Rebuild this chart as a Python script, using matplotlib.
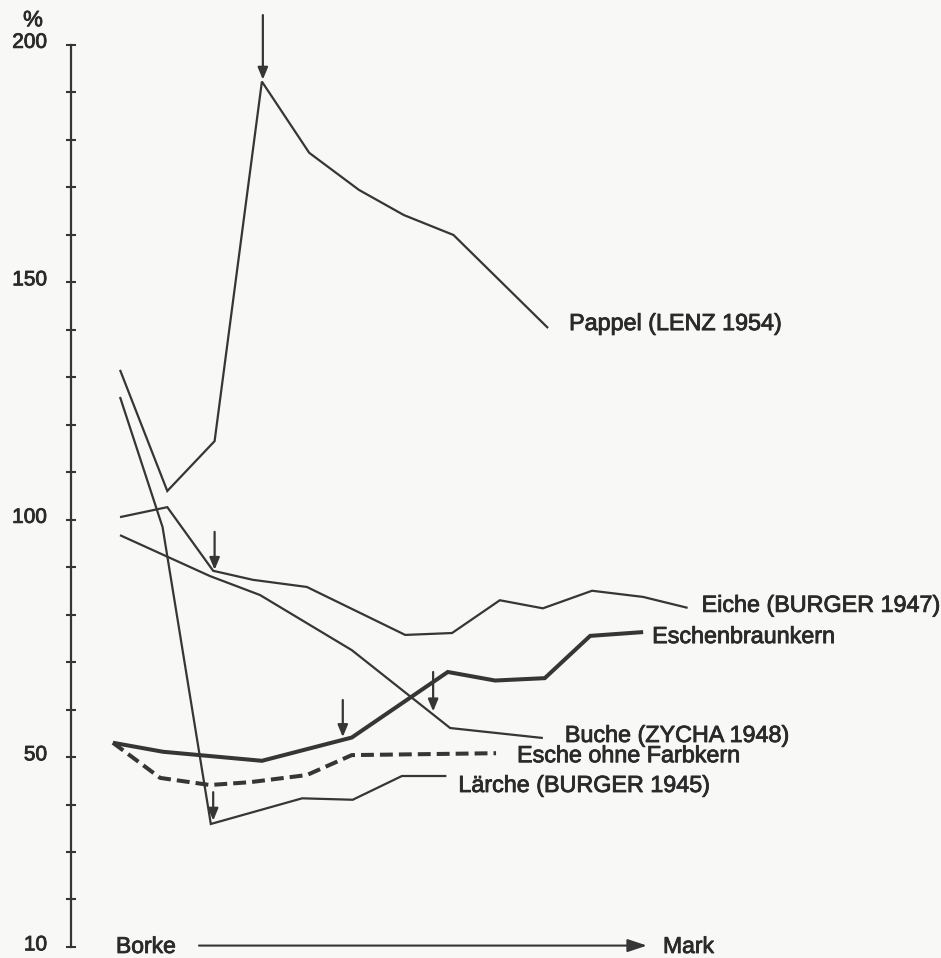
import matplotlib
matplotlib.use('Agg')
import matplotlib.pyplot as plt
import matplotlib.patheffects as pe
import matplotlib.transforms as mtrans
from matplotlib.ticker import FixedLocator, FuncFormatter

plt.rcParams['font.family'] = ['Liberation Sans', 'DejaVu Sans']

# ---------------- data (x: position from Borke toward Mark, y: %) ----------------
pappel_x = [0, 1, 2, 3, 4, 5.05, 6, 7.05, 9.05]
pappel_y = [131.5, 106, 116.5, 192.2, 177.2, 169.4, 164.1, 159.9, 140.3]

laerche_x = [0, 0.9, 1.92, 3.85, 4.92, 5.96, 6.9]
laerche_y = [125.8, 98.4, 35.9, 41.3, 41.0, 46.0, 46.0]

eiche_x = [0, 1.0, 1.97, 2.81, 3.95, 6.03, 7.02, 8.03, 8.94, 9.98, 11.06, 12.0]
eiche_y = [100.5, 102.6, 89.2, 87.3, 85.8, 75.7, 76.1, 83.0, 81.3, 85.0, 83.7, 81.4]

buche_x = [0, 1.9, 2.96, 4.9, 6.98, 8.94]
buche_y = [96.7, 88.1, 84.1, 72.5, 56.1, 54.0]

braun_x = [-0.15, 0.91, 3.0, 4.9, 6.93, 7.93, 8.98, 9.94, 11.06]
braun_y = [53.0, 51.1, 49.2, 54.1, 67.9, 66.1, 66.6, 75.5, 76.3]

ohne_x = [-0.15, 0.85, 1.9, 2.75, 3.95, 4.9, 7.95]
ohne_y = [53.0, 45.6, 44.1, 44.7, 46.2, 50.4, 50.8]

labels = ["Pappel (LENZ 1954)", "Lärche (BURGER 1945)", "Eiche (BURGER 1947)",
          "Buche (ZYCHA 1948)", "Eschenbraunkern", "Esche ohne Farbkern"]

# marker arrows: (x, y_from, y_to)
arrows = [(3.02, 206.2, 192.6), (2.0, 97.4, 89.4), (1.97, 42.6, 36.6),
          (4.71, 62.0, 54.2), (6.62, 67.9, 59.6)]

yticks = list(range(10, 201, 10))
ytick_labels = {10: "10", 50: "50", 100: "100", 150: "150", 200: "200"}

# ---------------- style ----------------
bg = '#f8f8f6'
lc = '#363636'
tc = '#2a2a2a'
bold_fx = [pe.withStroke(linewidth=0.6, foreground=tc)]

fig = plt.figure(figsize=(9.41, 9.58), dpi=100)
fig.patch.set_facecolor(bg)
ax = fig.add_axes([0, 0, 1, 1])
ax.set_facecolor(bg)
ax.set_xlim(-2.537, 17.357)
ax.set_ylim(7.684, 209.37)

thin = 1.6
thick = 2.9
series = [
    (pappel_x, pappel_y, thin, '-', (21, -2)),
    (laerche_x, laerche_y, thin, '-', (12, -16)),
    (eiche_x, eiche_y, thin, '-', (14, -4)),
    (buche_x, buche_y, thin, '-', (22, -4)),
    (braun_x, braun_y, thick, '-', (9, -11)),
    (ohne_x, ohne_y, thick, '--', (21, -9)),
]
for (xs, ys, lw, ls, off), lab in zip(series, labels):
    line, = ax.plot(xs, ys, color=lc, lw=lw, ls=ls, solid_joinstyle='miter',
                    solid_capstyle='butt', dash_capstyle='butt')
    if ls == '--':
        line.set_dashes([3.2, 1.5])
    ax.annotate(lab, xy=(xs[-1], ys[-1]), xytext=off, textcoords='offset pixels',
                ha='left', va='baseline', fontsize=16.8, color=tc,
                path_effects=bold_fx)

for x, y0, y1 in arrows:
    ax.annotate('', xy=(x, y1), xytext=(x, y0),
                arrowprops=dict(arrowstyle='-|>,head_length=0.6,head_width=0.25',
                                mutation_scale=12, color=lc, lw=1.6,
                                shrinkA=0, shrinkB=0))

# y axis
for s in ['top', 'right', 'bottom']:
    ax.spines[s].set_visible(False)
ax.spines['left'].set_position(('data', -1.036))
ax.spines['left'].set_bounds(10, 200)
ax.spines['left'].set_linewidth(1.6)
ax.spines['left'].set_color(lc)
ax.yaxis.set_major_locator(FixedLocator(yticks))
ax.yaxis.set_major_formatter(FuncFormatter(lambda v, p: ytick_labels.get(int(round(v)), '')))
ax.tick_params(axis='y', direction='inout', length=7.2, width=1.5, pad=13.5,
               labelsize=15, color=lc, labelcolor=tc)
shift = mtrans.ScaledTranslation(0, 3 / 72, fig.dpi_scale_trans)
for t in ax.get_yticklabels():
    t.set_path_effects(bold_fx)
    t.set_transform(t.get_transform() + shift)
ax.set_xticks([])
ax.text(-1.84, 205.0, '%', ha='center', va='center', fontsize=16, color=tc,
        path_effects=bold_fx)

# Borke -> Mark
ax.text(-0.085, 8.74, 'Borke', ha='left', va='baseline', fontsize=16.5, color=tc,
        path_effects=bold_fx)
ax.annotate('', xy=(11.14, 10.3), xytext=(1.67, 10.3),
            arrowprops=dict(arrowstyle='-|>,head_length=0.9,head_width=0.3',
                            mutation_scale=13, color=lc, lw=1.5,
                            shrinkA=0, shrinkB=0))
ax.text(11.48, 8.74, 'Mark', ha='left', va='baseline', fontsize=16.5, color=tc,
        path_effects=bold_fx)

fig.savefig('out.png', dpi=100, facecolor=bg)
